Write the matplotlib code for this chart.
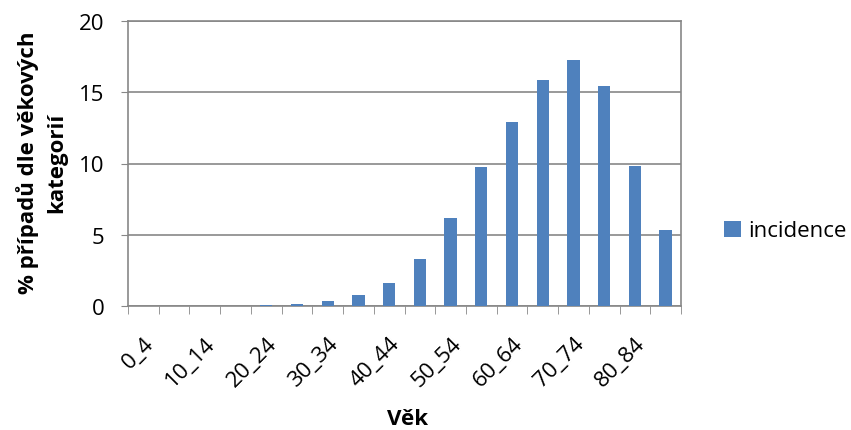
import matplotlib

matplotlib.use("Agg")
import matplotlib.pyplot as plt
import numpy as np
from matplotlib.transforms import ScaledTranslation

CATEGORIES = ["0_4", "5_9", "10_14", "15_19", "20_24", "25_29", "30_34", "35_39", "40_44",
              "45_49", "50_54", "55_59", "60_64", "65_69", "70_74", "75_79", "80_84", "85+"]
INCIDENCE = [0, 0, 0, 0, 0.05, 0.12, 0.35, 0.8, 1.64, 3.32, 6.17, 9.77, 12.92, 15.87,
             17.29, 15.44, 9.79, 5.35]
SERIES_NAME = "incidence"
Y_TICKS = [0, 5, 10, 15, 20]

plt.rcParams["font.family"] = ["Open Sans", "DejaVu Sans"]
GRID = "#878787"

fig = plt.figure(figsize=(8.51, 4.31), dpi=100)
ax = fig.add_axes([128 / 851, 1 - 307 / 431, (681 - 128) / 851, (307 - 22) / 431])

x = np.arange(len(CATEGORIES))
ax.bar(x, INCIDENCE, width=0.4, color="#4F81BD", label=SERIES_NAME, zorder=3)

ax.set_xlim(-0.5, len(CATEGORIES) - 0.5)
ax.set_ylim(0, 20)
ax.set_yticks(Y_TICKS)
ax.yaxis.grid(True, color=GRID, linewidth=1.2, zorder=0)
ax.tick_params(axis="y", labelsize=16, length=5, color=GRID, pad=12)

# labels every other category, tick marks between categories
ax.set_xticks(x[::2])
ax.set_xticklabels(CATEGORIES[::2], rotation=45, ha="right", rotation_mode="anchor", fontsize=16)
shift = ScaledTranslation(4 / 100, 0, fig.dpi_scale_trans)
for lbl in ax.get_xticklabels():
    lbl.set_transform(lbl.get_transform() + shift)
ax.set_xticks(np.arange(-0.5, len(CATEGORIES)), minor=True)
ax.tick_params(axis="x", which="major", length=0, pad=19)
ax.tick_params(axis="x", which="minor", length=6, color=GRID)

for s in ax.spines.values():
    s.set_color(GRID)
    s.set_linewidth(1.2)

fig.text(408 / 851, 1 - 420 / 431, "Věk", fontsize=16, fontweight="bold", ha="center", va="center")
fig.text(42 / 851, 1 - 163 / 431, "% případů dle věkových\nkategorií", fontsize=16,
         fontweight="bold", ha="center", va="center", rotation=90, linespacing=1.45)

fig.legend(loc="center left", bbox_to_anchor=(724 / 851, 1 - 232 / 431), frameon=False,
           fontsize=16, handlelength=0.75, handleheight=0.75, handletextpad=0.35,
           borderpad=0, borderaxespad=0)

fig.savefig("out.png", dpi=100)
